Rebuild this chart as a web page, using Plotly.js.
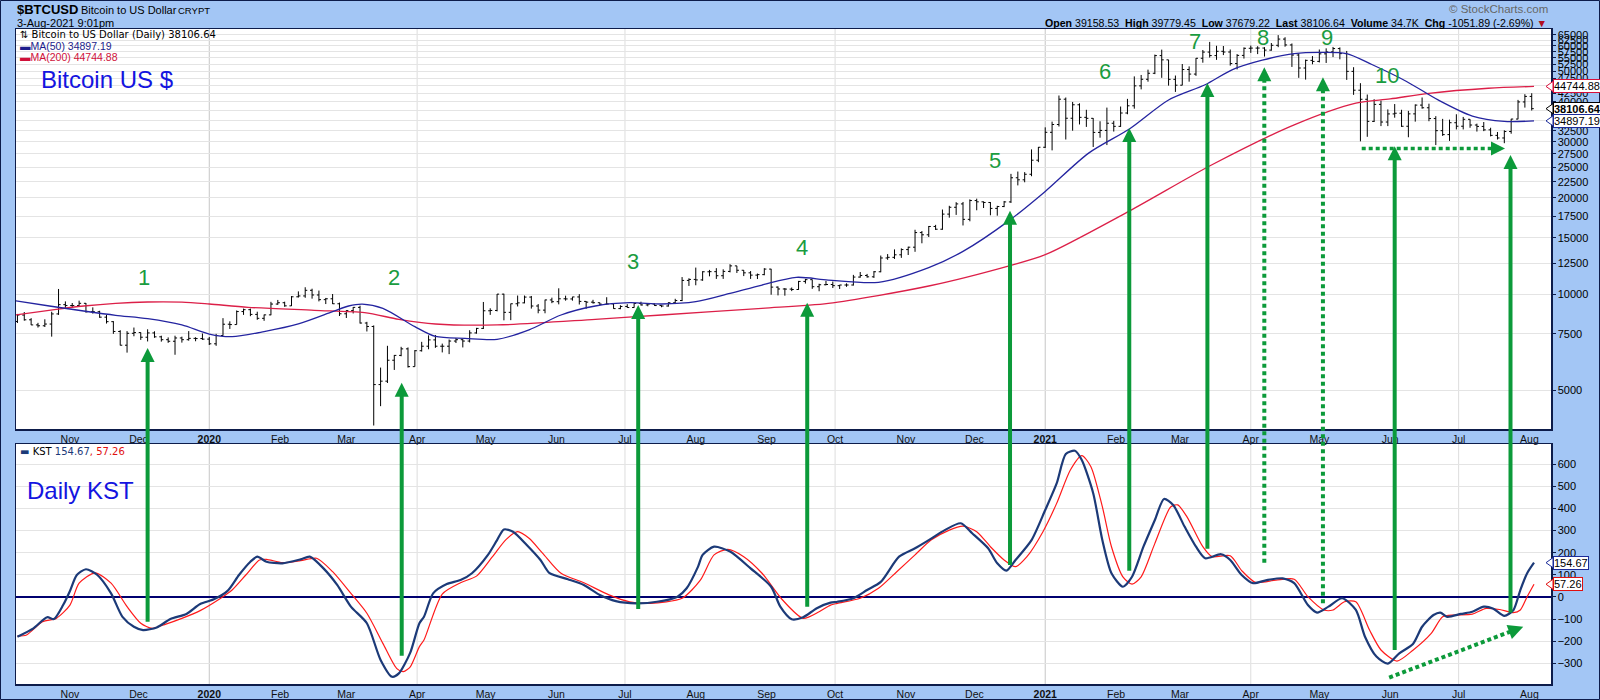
<!DOCTYPE html>
<html><head><meta charset="utf-8">
<script src="https://cdn.plot.ly/plotly-3.0.1.min.js"></script>
<style>html,body{margin:0;padding:0;background:#a3c6f5;}#chart{width:1600px;height:700px;}</style>
</head><body><div id="chart"></div>
<script>
// ---------- DATA ----------
// 3-day price bars starting 2019-10-08 (each bar = 3 calendar days, x = middle day)
const barPeriodStart = '2019-10-08';
const barPeriodDays = 3;
const firstOpen = 8200;
const highs = [
8660,8780,8400,8120,8330,8800,10370,9480,9370,9530,
9370,9080,8860,8600,8220,7700,7650,7850,7580,7750,
7640,7400,7310,7400,7350,7650,7320,7520,7330,7500,
8400,8210,8880,9000,9000,8800,8620,9450,9580,9460,
9850,10190,10500,10390,10250,9720,10000,9400,8900,9100,
9190,8180,7970,5880,6880,6440,6830,6800,6670,7080,
7420,7440,6990,7200,7280,7220,7700,7830,9440,9020,
10000,10020,9330,9890,9890,9860,9300,9600,9740,10420,
9880,9800,9990,9500,9590,9400,9770,9330,9220,9290,
9370,9460,9330,9340,9210,9420,9660,11300,11200,12100,
11790,11900,12050,11950,12400,12250,11880,11800,11590,12050,
11990,10560,10440,10480,10990,11150,11100,10770,10990,10940,
10680,10800,11480,11720,11560,11800,13200,13340,13800,13900,
14070,15900,15750,16340,16470,18400,18900,19400,19430,19800,
19900,19500,19420,18900,19570,23800,24200,24100,28400,28900,
33300,34700,41900,41300,40000,39600,37800,35600,34800,38400,
34900,38700,40900,48100,48600,50500,56300,58350,54200,48400,
52600,51700,54900,58200,61700,60000,59900,58400,56500,59300,
60100,59800,59400,61200,64800,63800,61000,56800,54300,55700,
58400,58900,59500,59300,57800,51400,45800,42200,40800,40400,
37900,39400,37800,37500,39300,41300,39500,36100,35400,35200,
36600,35900,35300,34200,34600,33200,32200,32600,35400,40600,
42300,42600];
const lows = [
8110,8250,7990,7850,7880,7350,8600,8980,9070,9160,
8740,8680,8420,8080,7500,6900,6550,7370,7180,7100,
7290,7090,7030,6450,7040,7140,7110,7180,6920,6880,
7400,7770,8020,8600,8520,8300,8240,8580,9250,9120,
9170,9750,9730,9670,9480,9300,9300,8530,8410,8690,
8080,7630,3870,4450,5260,5780,6380,5880,5920,6600,
6710,6780,6560,6480,7020,6800,7050,7510,7770,8600,
8820,8270,8280,9140,9350,9000,8700,8700,9360,9280,
9530,9530,9270,8990,9330,9230,9280,8990,8960,9050,
9060,9200,9150,9170,9090,9130,9300,9500,10600,10650,
11000,11360,11150,11150,11690,11640,11380,11150,11140,11450,
9950,9900,9880,10210,10300,10780,10380,10200,10650,10440,
10370,10530,10630,11250,11250,11230,11700,12800,12880,12980,
13250,13560,14420,15090,15880,15900,17350,17700,16400,16900,
18300,18600,17650,17600,18720,19300,21900,22400,23400,25900,
28700,28200,33500,30500,32500,34000,33400,28900,30900,29300,
32300,33400,36600,38100,43800,46300,48900,47600,45000,43000,
45100,46300,48300,53100,55100,54200,56100,52000,50600,54700,
57000,56500,55500,57900,59400,59600,51500,47600,47000,52500,
53200,53000,55300,54400,46900,42100,30100,31100,34600,33600,
33600,35700,33400,31000,34700,38100,34800,29300,31300,30200,
32800,32800,33200,32300,32400,31200,30500,29700,31800,35300,
38400,37600];
const closes = [
8590,8300,8000,7950,8050,8660,9260,9200,9200,9350,
8800,8800,8460,8190,7630,6910,7530,7570,7320,7550,
7340,7190,7110,7280,7190,7260,7250,7220,6980,7410,
8040,8020,8810,8930,8630,8390,8600,9300,9390,9180,
9800,9860,10270,9930,9600,9660,9320,8670,8870,9080,
8110,7910,5200,5330,6200,6420,6730,5920,6640,6860,
7180,6860,6860,7120,7190,7120,7550,7800,8860,8880,
9990,8760,9320,9380,9780,9170,8900,9580,9460,9660,
9650,9790,9480,9430,9390,9290,9310,9000,9140,9070,
9340,9240,9300,9200,9170,9390,9540,11030,11110,11070,
11740,11750,11410,11770,12250,11870,11650,11460,11500,11970,
10510,10370,10360,10330,10950,11090,10540,10690,10710,10620,
10670,10670,11300,11430,11320,11740,12970,13030,13270,13780,
14020,15580,15330,16280,15960,17800,18700,19160,17140,19630,
19450,19360,18550,18800,19440,23140,22800,23730,26270,28840,
32130,33990,40800,35560,39190,35790,35540,32100,32570,34300,
33540,36930,38900,44920,47110,49200,55890,54200,47090,45140,
50540,48910,54820,57330,55900,57650,57350,52770,55970,58920,
59000,59020,58150,60200,62970,60360,56120,51100,54000,53600,
56600,57400,58800,56700,49880,43540,40780,34770,39300,34600,
36690,36870,33560,36700,39100,38350,35480,32510,31600,34430,
33570,35290,33860,33520,32700,31420,30840,32310,35350,40000,
41630,38106.64];

const ma50Dates = ['2019-10-08','2019-10-23','2019-11-07','2019-11-21','2019-12-05','2019-12-20','2020-01-01','2020-01-11','2020-01-25','2020-02-09','2020-02-24','2020-03-02','2020-03-08','2020-03-17','2020-03-31','2020-04-09','2020-04-22','2020-05-06','2020-05-20','2020-06-03','2020-06-18','2020-07-03','2020-07-17','2020-08-01','2020-08-16','2020-08-30','2020-09-14','2020-09-28','2020-10-20','2020-11-11','2020-11-26','2020-12-16','2021-01-01','2021-01-20','2021-02-07','2021-02-24','2021-03-12','2021-03-24','2021-04-06','2021-04-20','2021-05-02','2021-05-13','2021-05-24','2021-06-08','2021-06-22','2021-07-07','2021-07-21','2021-08-03'];
const ma50Vals = [9530,9170,8845,8575,8370,8000,7490,7350,7620,8054,8800,9170,9300,9020,7900,7360,7260,7210,7720,8594,9170,9390,9303,9460,10050,10670,11280,11060,10880,12100,13600,16950,20970,27650,32970,40580,45290,50520,54070,56700,57200,56680,52400,46460,40580,36130,34760,34897.19];
const ma200Dates = ['2019-10-08','2019-10-26','2019-11-07','2019-11-21','2019-12-05','2019-12-20','2020-01-01','2020-01-18','2020-02-16','2020-03-09','2020-03-24','2020-04-09','2020-05-06','2020-06-18','2020-07-17','2020-08-30','2020-09-28','2020-11-11','2020-12-17','2021-01-01','2021-02-07','2021-03-15','2021-04-20','2021-05-17','2021-06-01','2021-06-18','2021-07-14','2021-08-03'];
const ma200Vals = [8594,8955,9170,9350,9440,9430,9303,9085,8890,8740,8330,8054,7998,8330,8594,9020,9350,10595,12300,13280,18230,25420,33900,39650,40880,42580,44150,44744.88];

const kstDates = [
'2019-10-09','2019-10-16','2019-10-22','2019-10-25','2019-10-29',
'2019-11-01','2019-11-04','2019-11-08','2019-11-13','2019-11-19','2019-11-24','2019-11-29',
'2019-12-03','2019-12-09','2019-12-15','2019-12-22','2019-12-28',
'2020-01-03','2020-01-09','2020-01-14','2020-01-19','2020-01-22','2020-01-26',
'2020-02-02','2020-02-10','2020-02-14','2020-02-20','2020-02-26',
'2020-03-03','2020-03-10','2020-03-16','2020-03-21','2020-03-24','2020-03-29',
'2020-04-02','2020-04-04','2020-04-08','2020-04-14','2020-04-20','2020-04-25',
'2020-05-02','2020-05-06','2020-05-09','2020-05-13','2020-05-19','2020-05-25','2020-05-29',
'2020-06-06','2020-06-13','2020-06-20','2020-06-27',
'2020-07-06','2020-07-15','2020-07-24','2020-07-28',
'2020-08-02','2020-08-04','2020-08-09','2020-08-16','2020-08-25',
'2020-09-03','2020-09-07','2020-09-12','2020-09-17','2020-09-23','2020-09-29',
'2020-10-02','2020-10-09','2020-10-15','2020-10-21','2020-10-29',
'2020-11-05','2020-11-11','2020-11-18','2020-11-25','2020-11-30',
'2020-12-07','2020-12-11','2020-12-15','2020-12-19','2020-12-26',
'2021-01-01','2021-01-06','2021-01-10','2021-01-14','2021-01-17','2021-01-22','2021-01-26','2021-01-30',
'2021-02-04','2021-02-08','2021-02-13','2021-02-18','2021-02-22','2021-02-26',
'2021-03-03','2021-03-08','2021-03-12','2021-03-19','2021-03-23','2021-03-28',
'2021-04-02','2021-04-08','2021-04-15','2021-04-20','2021-04-26','2021-04-30',
'2021-05-05','2021-05-11','2021-05-17','2021-05-21','2021-05-26','2021-05-31',
'2021-06-05','2021-06-11','2021-06-15','2021-06-20','2021-06-23','2021-06-26',
'2021-07-02','2021-07-07','2021-07-12','2021-07-16','2021-07-21','2021-07-25','2021-07-28','2021-07-31',
'2021-08-03'];
const kstVals = [
-180,-142,-92,-100,-37,
27,99,125,99,16,-90,-135,
-150,-138,-100,-77,-32,
-11,27,99,159,182,159,
152,170,182,129,54,
-44,-119,-285,-361,-346,-252,
-119,-90,16,58,76,107,
190,257,305,295,235,167,107,
80,54,9,-19,
-29,-22,1,39,
137,190,227,205,129,
46,-44,-101,-92,-51,-26,
-22,-6,31,68,182,
220,257,302,333,288,
220,152,119,167,257,
393,513,646,661,619,469,257,107,
46,91,227,348,443,416,
318,227,175,193,167,99,
62,76,84,62,-37,-71,
-44,-6,-59,-180,-270,-302,
-255,-213,-135,-82,-71,-90,
-77,-67,-44,-52,-86,-59,31,107,
154.67];
const sigDates = [
'2019-10-09','2019-10-13','2019-10-20','2019-10-26','2019-11-01','2019-11-05','2019-11-12','2019-11-19','2019-11-26',
'2019-12-02','2019-12-07','2019-12-13','2019-12-20','2019-12-28',
'2020-01-06','2020-01-11','2020-01-17','2020-01-23','2020-01-26','2020-02-02','2020-02-10','2020-02-17','2020-02-24',
'2020-03-03','2020-03-10','2020-03-17','2020-03-23','2020-03-26','2020-03-29','2020-04-02','2020-04-04','2020-04-12',
'2020-04-20','2020-04-27','2020-05-04','2020-05-10','2020-05-15','2020-05-20','2020-05-26','2020-06-03','2020-06-13',
'2020-06-24','2020-07-03','2020-07-12','2020-07-26','2020-08-03','2020-08-09','2020-08-15','2020-08-22','2020-08-30',
'2020-09-08','2020-09-17','2020-09-24','2020-09-29','2020-10-02','2020-10-12','2020-10-20','2020-10-28',
'2020-11-05','2020-11-12','2020-11-20','2020-11-26','2020-12-02','2020-12-08','2020-12-14','2020-12-19','2020-12-24','2020-12-31',
'2021-01-06','2021-01-12','2021-01-17','2021-01-21','2021-01-26','2021-01-30','2021-02-04','2021-02-08','2021-02-12',
'2021-02-18','2021-02-25','2021-02-28','2021-03-04','2021-03-11','2021-03-15','2021-03-23','2021-03-28',
'2021-04-03','2021-04-12','2021-04-20','2021-04-26','2021-05-03','2021-05-07','2021-05-12','2021-05-17','2021-05-23','2021-05-28',
'2021-06-04','2021-06-11','2021-06-19','2021-06-24','2021-06-29','2021-07-07','2021-07-13','2021-07-19','2021-07-25','2021-07-28','2021-07-31',
'2021-08-03'];
const sigVals = [
-177,-172,-112,-97,-37,62,109,62,-44,
-119,-142,-123,-97,-62,
-6,31,99,167,170,155,164,175,114,
16,-74,-210,-323,-338,-316,-225,-195,13,
64,94,182,260,295,265,197,107,64,
9,-22,-29,-6,76,190,215,182,107,
-14,-97,-67,-37,-29,-6,39,114,
190,257,302,320,295,227,167,137,182,295,
423,574,639,589,408,227,91,58,91,
242,408,416,363,227,182,186,119,
66,76,80,1,-59,-59,-22,-22,-150,-240,
-290,-241,-165,-90,-82,-78,-52,-57,-71,-59,1,
57.26];

const monthTicks = ['2019-11-01','2019-12-01','2020-01-01','2020-02-01','2020-03-01','2020-04-01','2020-05-01','2020-06-01','2020-07-01','2020-08-01','2020-09-01','2020-10-01','2020-11-01','2020-12-01','2021-01-01','2021-02-01','2021-03-01','2021-04-01','2021-05-01','2021-06-01','2021-07-01','2021-08-01'];
const monthLabels = ['Nov','Dec','<b>2020</b>','Feb','Mar','Apr','May','Jun','Jul','Aug','Sep','Oct','Nov','Dec','<b>2021</b>','Feb','Mar','Apr','May','Jun','Jul','Aug'];
const quarterLines = ['2020-01-01','2020-04-01','2020-07-01','2020-10-01','2021-01-01','2021-04-01','2021-07-01'];
const priceTicks = [5000,7500,10000,12500,15000,17500,20000,22500,25000,27500,30000,32500,35000,37500,40000,42500,45000,47500,50000,52500,55000,57500,60000,62500,65000];
const kstTicks = [-300,-200,-100,0,100,200,300,400,500,600];

// annotation arrows (date, price at arrow tip, KST value at arrow foot)
const arrowDates = ['2019-12-05','2020-03-25 06:00','2020-07-06 19:00','2020-09-18 19:00','2020-12-16 14:00','2021-02-06 19:00','2021-03-13','2021-04-06 22:00','2021-05-02 14:00','2021-06-03','2021-07-23 17:00'];
const arrowTipPrice = [6770,5271,9237,9391,18245,33140,45850,51360,47780,29040,27280];
const arrowBaseKst = [-112,-266,-55,-44,144,118,218,155,-29,-240,-71];
const arrowDotted = [0,0,0,0,0,0,0,1,1,0,0];
const labelText = ['1','2','3','4','5','6','7','8','9','10'];
const labelDates = ['2019-12-03 10:00','2020-03-21 21:00','2020-07-04 12:00','2020-09-16 12:00','2020-12-10','2021-01-27','2021-03-07 14:00','2021-04-06 07:00','2021-05-04 07:00','2021-05-30 14:00'];
const labelPrice = [11300,11300,12600,13940,26300,50000,61660,63500,63500,48550];
const hArrow = {from:'2021-05-19 13:30', to:'2021-07-21 07:00', price:28580};
const dArrow = {from:'2021-05-31 14:00', fromKst:-365, to:'2021-07-29 07:00', toKst:-135};

// ---------- GEOMETRY HELPERS ----------
const PL=16, PT=29, PW=1535, PH=655;
const XR = ['2019-10-08 09:00','2021-08-10 10:30'];
const YR = [3.5768, 4.83072];
const KR = [-393.9, 691.5];
const TOPDOM = [(684-429)/655, 1];
const BOTDOM = [0, 240/655];
function ms(s){ return Date.parse(s.length===10 ? s+'T00:00:00Z' : s.replace(' ','T')+':00Z'); }
const X0 = ms(XR[0]), X1 = ms(XR[1]);
function dx(s){ return PL + (ms(s)-X0)/(X1-X0)*PW; }
function py(p){ return 429 - (Math.log10(p)-YR[0])/(YR[1]-YR[0])*400; }
function ky(v){ return 684 - (v-KR[0])/(KR[1]-KR[0])*240; }
function fx(px){ return (px-PL)/PW; }
function fy(p){ return (PT+PH-p)/PH; }

// bar dates & opens
const DAY = 86400000;
const barDates = closes.map((_, i) => new Date(ms(barPeriodStart) + (i*barPeriodDays+1)*DAY).toISOString().slice(0,10));
const opens = closes.map((c, i) => i === 0 ? firstOpen : closes[i-1]);

// ---------- TRACES ----------
const traces = [
 {type:'ohlc', x:barDates, open:opens, high:highs, low:lows, close:closes, xaxis:'x', yaxis:'y',
  increasing:{line:{color:'#000', width:1}}, decreasing:{line:{color:'#000', width:1}}, tickwidth:0.3, hoverinfo:'skip'},
 {type:'scatter', mode:'lines', x:ma200Dates, y:ma200Vals, xaxis:'x', yaxis:'y', line:{color:'#dc1f48', width:1.3, shape:'spline', smoothing:0.8}, hoverinfo:'skip'},
 {type:'scatter', mode:'lines', x:ma50Dates, y:ma50Vals, xaxis:'x', yaxis:'y', line:{color:'#2424a0', width:1.3, shape:'spline', smoothing:0.8}, hoverinfo:'skip'},
 {type:'scatter', mode:'lines', x:sigDates, y:sigVals, xaxis:'x2', yaxis:'y2', line:{color:'#ff1a1a', width:1.2, shape:'spline', smoothing:0.7}, hoverinfo:'skip'},
 {type:'scatter', mode:'lines', x:kstDates, y:kstVals, xaxis:'x2', yaxis:'y2', line:{color:'#1c3a78', width:2.2, shape:'spline', smoothing:0.7}, hoverinfo:'skip'}
];

// ---------- SHAPES ----------
const GREEN = '#0c9a3a';
const shapes = [];
quarterLines.forEach(d => {
  const c = d.endsWith('01-01') ? '#c6c6c6' : '#dddddd';
  [[TOPDOM[0],TOPDOM[1]],[BOTDOM[0],BOTDOM[1]]].forEach(dm => shapes.push({type:'line', xref:'x', yref:'paper', x0:d, x1:d, y0:dm[0], y1:dm[1], line:{color:c, width:1}, layer:'below'}));
});
function tri(tx, ty, ux, uy, len, half){ // tip (tx,ty) pixels, unit dir (ux,uy) pointing to tip
  const bx = tx-ux*len, by = ty-uy*len, nx = -uy, ny = ux;
  const p = [[tx,ty],[bx+nx*half,by+ny*half],[bx-nx*half,by-ny*half]];
  return {type:'path', xref:'paper', yref:'paper', path:'M'+p.map(q=>fx(q[0]).toFixed(5)+','+fy(q[1]).toFixed(5)).join(' L')+' Z', fillcolor:GREEN, line:{width:0}, layer:'above'};
}
arrowDates.forEach((d, i) => {
  const x = dx(d), yt = py(arrowTipPrice[i]), yb = ky(arrowBaseKst[i]);
  shapes.push({type:'line', xref:'paper', yref:'paper', x0:fx(x), x1:fx(x), y0:fy(yb), y1:fy(yt+12), line:{color:GREEN, width:4, dash: arrowDotted[i] ? '4px,3.5px' : 'solid'}, layer:'above'});
  shapes.push(tri(x, yt, 0, -1, 14, 7));
});
{ const x0 = dx(hArrow.from), x1 = dx(hArrow.to), y = py(hArrow.price);
  shapes.push({type:'line', xref:'paper', yref:'paper', x0:fx(x0), x1:fx(x1-12), y0:fy(y), y1:fy(y), line:{color:GREEN, width:3.5, dash:'4px,3px'}, layer:'above'});
  shapes.push(tri(x1, y, 1, 0, 14, 7)); }
{ const x0 = dx(dArrow.from), y0 = ky(dArrow.fromKst), x1 = dx(dArrow.to), y1 = ky(dArrow.toKst);
  const L = Math.hypot(x1-x0, y1-y0), ux = (x1-x0)/L, uy = (y1-y0)/L;
  shapes.push({type:'line', xref:'paper', yref:'paper', x0:fx(x0), y0:fy(y0), x1:fx(x1-ux*12), y1:fy(y1-uy*12), line:{color:GREEN, width:4, dash:'4px,3px'}, layer:'above'});
  shapes.push(tri(x1, y1, ux, uy, 15, 7.5)); }
// outer frame
shapes.push({type:'rect', xref:'paper', yref:'paper', x0:fx(0.5), x1:fx(1599.5), y0:fy(0.5), y1:fy(699.5), line:{color:'#0d1c4a', width:1}, fillcolor:'rgba(0,0,0,0)', layer:'above'});

// value tags on the right axis
const tags = [
 {v:44744.88, t:'44744.88', c:'#d8103c', k:'p'},
 {v:38106.64, t:'<b>38106.64</b>', c:'#000000', k:'p'},
 {v:34897.19, t:'34897.19', c:'#1c2c9a', k:'p'},
 {v:154.67, t:'154.67', c:'#1c2c9a', k:'k'},
 {v:57.26, t:'57.26', c:'#e01010', k:'k'}
];

// ---------- ANNOTATIONS ----------
const FONT = 'Liberation Sans, Arial, sans-serif';
const ann = [];
function txt(px, pyv, text, o){ ann.push(Object.assign({xref:'paper', yref:'paper', x:fx(px), y:fy(pyv), text:text, showarrow:false, xanchor:'left', yanchor:'middle', font:{family:FONT, size:11, color:'#000'}}, o||{})); }
txt(15, 9.5, '<b>$BTCUSD</b>', {font:{family:FONT, size:13, color:'#000'}});
txt(79, 10, 'Bitcoin to US Dollar', {font:{family:FONT, size:11, color:'#000'}});
txt(176, 10, 'CRYPT', {font:{family:FONT, size:9.5, color:'#000'}});
txt(15, 23, '3-Aug-2021 9:01pm', {font:{family:FONT, size:11, color:'#000'}});
txt(1550, 9.5, '© StockCharts.com', {xanchor:'right', font:{family:FONT, size:11.5, color:'#666'}});
txt(1549, 23, '<b>Open</b> 39158.53  <b>High</b> 39779.45  <b>Low</b> 37679.22  <b>Last</b> 38106.64  <b>Volume</b> 34.7K  <b>Chg</b> -1051.89 (-2.69%) <span style="color:#b01020">▼</span>', {xanchor:'right', font:{family:FONT, size:10.6, color:'#000'}});
txt(18, 35, '⇅ Bitcoin to US Dollar (Daily) 38106.64', {font:{family:'DejaVu Sans, sans-serif', size:10, color:'#000'}});
txt(18, 46, '▬MA(50) 34897.19', {font:{family:FONT, size:10.5, color:'#1c1c8c'}});
txt(18, 57.5, '▬MA(200) 44744.88', {font:{family:FONT, size:10.5, color:'#d0103a'}});
txt(39, 79, 'Bitcoin US $', {font:{family:FONT, size:24, color:'#1414e0'}});
txt(18, 451, '<span style="color:#1c3a78">▬</span> KST <span style="color:#1c3a78">154.67</span><span style="color:#e01010">, 57.26</span>', {font:{family:'DejaVu Sans, sans-serif', size:10, color:'#000'}});
txt(25, 490, 'Daily KST', {font:{family:FONT, size:24, color:'#1414e0'}});
labelText.forEach((t, i) => txt(dx(labelDates[i]), py(labelPrice[i]), t, {xanchor:'center', font:{family:FONT, size:22, color:'#1a9c40'}}));
tags.forEach(g => {
  const y = g.k === 'p' ? py(g.v) : ky(g.v);
  ann.push({xref:'paper', yref:'paper', x:fx(1553), y:fy(y), text:g.t, showarrow:false, xanchor:'left', yanchor:'middle', bgcolor:'#ffffff', bordercolor:g.c, borderwidth:1, borderpad:0, font:{family:FONT, size:11, color:'#000'}});
  shapes.push({type:'path', xref:'paper', yref:'paper', path:'M'+fx(1546)+','+fy(y)+' L'+fx(1553)+','+fy(y-5)+' L'+fx(1553)+','+fy(y+5)+' Z', fillcolor:'#ffffff', line:{color:g.c, width:1}, layer:'above'});
});

// ---------- LAYOUT ----------
const AXC = '#0d1c4a';
const xBase = {type:'date', range:XR, tickmode:'array', tickvals:monthTicks, ticktext:monthLabels, showgrid:false, zeroline:false,
  ticks:'', tickfont:{family:FONT, size:10.5, color:'#111'}, showline:true, mirror:true, linecolor:AXC, linewidth:1.5, fixedrange:true, rangeslider:{visible:false}};
const layout = {
  width:1600, height:700, paper_bgcolor:'#a3c6f5', plot_bgcolor:'#ffffff',
  margin:{l:PL, r:1600-PL-PW, t:PT, b:700-PT-PH, pad:0},
  showlegend:false, hovermode:false, font:{family:FONT, size:11, color:'#000'},
  xaxis:Object.assign({}, xBase, {anchor:'y', domain:[0,1]}),
  xaxis2:Object.assign({}, xBase, {anchor:'y2', domain:[0,1], matches:'x'}),
  yaxis:{domain:TOPDOM, type:'log', range:YR, side:'right', tickmode:'array', tickvals:priceTicks, ticktext:priceTicks.map(String),
    showgrid:true, gridcolor:'#e4e4e4', gridwidth:1, zeroline:false, ticks:'outside', ticklen:3, tickcolor:AXC, showline:true, mirror:true, linecolor:AXC, linewidth:1.5,
    tickfont:{family:FONT, size:11, color:'#000'}, fixedrange:true},
  yaxis2:{domain:BOTDOM, range:KR, side:'right', tickmode:'array', tickvals:kstTicks, showgrid:true, gridcolor:'#e4e4e4', zeroline:true, zerolinecolor:'#000070', zerolinewidth:1.3,
    ticks:'outside', ticklen:3, tickcolor:AXC, showline:true, mirror:true, linecolor:AXC, linewidth:1.5, tickfont:{family:FONT, size:11, color:'#000'}, fixedrange:true},
  shapes:shapes, annotations:ann
};
Plotly.newPlot('chart', traces, layout, {displayModeBar:false, staticPlot:true});
</script></body></html>
